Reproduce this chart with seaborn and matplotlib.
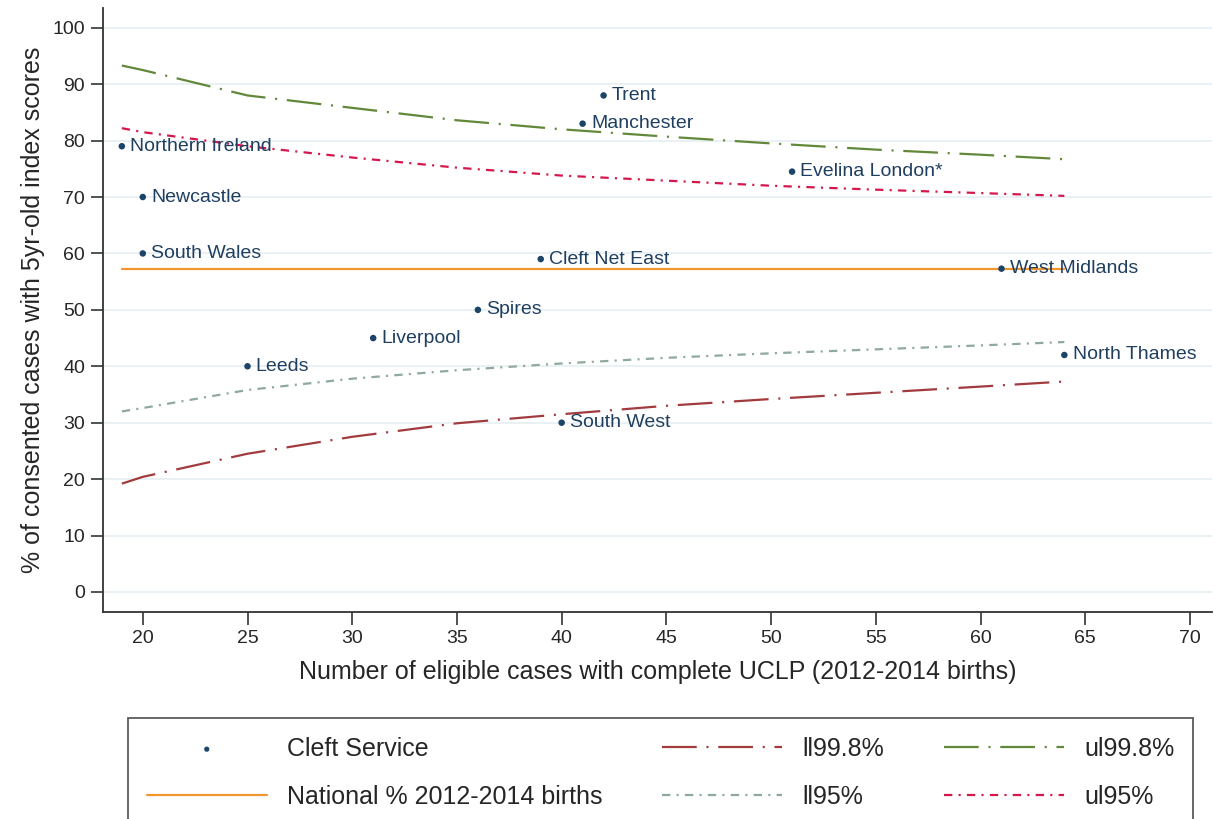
import numpy as np
import pandas as pd
import seaborn as sns
import matplotlib.pyplot as plt

# cleft services: eligible cases vs % consented with 5yr-old scores
services = ["Northern Ireland", "Newcastle", "South Wales", "Leeds", "Liverpool",
            "Spires", "Cleft Net East", "South West", "Manchester", "Trent",
            "Evelina London*", "West Midlands", "North Thames"]
n_cases = [19, 20, 20, 25, 31, 36, 39, 40, 41, 42, 51, 61, 64]
pct = [79, 70, 60, 40, 45, 50, 59, 30, 83, 88, 74.5, 57.3, 42]

national = 57.3

# funnel limits
n_lim = [19, 20, 25, 30, 35, 40, 45, 50, 55, 60, 64]
ll998 = [19.2, 20.4, 24.5, 27.5, 29.9, 31.5, 33.0, 34.2, 35.3, 36.4, 37.3]
ul998 = [93.3, 92.5, 88.0, 85.8, 83.6, 82.0, 80.7, 79.5, 78.4, 77.5, 76.7]
ll95 = [32.0, 32.6, 35.8, 37.8, 39.3, 40.5, 41.5, 42.3, 43.0, 43.7, 44.3]
ul95 = [82.2, 81.5, 79.0, 77.0, 75.2, 73.8, 72.9, 72.0, 71.3, 70.7, 70.2]

df_pts = pd.DataFrame({"service": services, "n": n_cases, "pct": pct})
df_lim = pd.DataFrame({"n": n_lim, "ll998": ll998, "ul998": ul998,
                       "ll95": ll95, "ul95": ul95})
df_nat = pd.DataFrame({"n": [min(n_lim), max(n_lim)], "pct": [national, national]})

sns.set_theme(style="white")
plt.rcParams['font.family'] = ['Liberation Sans', 'DejaVu Sans']
plt.rcParams['lines.scale_dashes'] = False

fig = plt.figure(figsize=(12.14, 8.19), dpi=100)
ax = fig.add_axes([103 / 1214, 1 - 612 / 819, 1109 / 1214, 604 / 819])

navy = "#1c4468"
long_dd = (0, (25, 7, 1.5, 7))
short_dd = (0, (6, 4.5, 1.5, 4.5))

sns.lineplot(data=df_nat, x="n", y="pct", ax=ax, color="#f0962e", lw=1.6,
             label="National % 2012-2014 births")
sns.lineplot(data=df_lim, x="n", y="ll998", ax=ax, color="#a23b3e", lw=1.6,
             linestyle=long_dd, label="ll99.8%")
sns.lineplot(data=df_lim, x="n", y="ll95", ax=ax, color="#8fa99c", lw=1.6,
             linestyle=short_dd, label="ll95%")
sns.lineplot(data=df_lim, x="n", y="ul998", ax=ax, color="#62883a", lw=1.6,
             linestyle=long_dd, label="ul99.8%")
sns.lineplot(data=df_lim, x="n", y="ul95", ax=ax, color="#d4184c", lw=1.6,
             linestyle=short_dd, label="ul95%")
sns.scatterplot(data=df_pts, x="n", y="pct", ax=ax, color=navy, s=22,
                edgecolor="none", label="Cleft Service", zorder=5)

for _, r in df_pts.iterrows():
    ax.annotate(r["service"], (r["n"], r["pct"]), xytext=(6, 0),
                textcoords="offset points", va="center", ha="left",
                fontsize=14, color="#1f3f60", zorder=6)

ax.set_xlim(18.1, 71.05)
ax.set_ylim(-3.55, 103.5)
ax.set_xticks(range(20, 71, 5))
ax.set_yticks(range(0, 101, 10))
ax.yaxis.grid(True, color="#e6eff2", lw=1.2)
ax.set_axisbelow(True)
sns.despine(ax=ax)
for s in ["left", "bottom"]:
    ax.spines[s].set_color("#333333")
    ax.spines[s].set_linewidth(1.3)
ax.tick_params(axis="both", length=9, width=1.2, color="#333333",
               labelsize=14, direction="out", pad=4, left=True, bottom=True)
ax.set_xlabel("Number of eligible cases with complete UCLP (2012-2014 births)",
              fontsize=18, labelpad=9)
ax.set_ylabel("% of consented cases with 5yr-old index scores",
              fontsize=18, labelpad=5)

handles, labels = ax.get_legend_handles_labels()
ax.get_legend().remove()
order = ["Cleft Service", "National % 2012-2014 births", "ll99.8%", "ll95%",
         "ul99.8%", "ul95%"]
hmap = dict(zip(labels, handles))
leg = fig.legend([hmap[k] for k in order], order, loc="upper left",
                 bbox_to_anchor=(128 / 1214, 1 - 718 / 819), ncol=3,
                 fontsize=18, handlelength=4.8, handletextpad=0.8,
                 columnspacing=2.4, labelspacing=0.95, borderpad=0.75,
                 borderaxespad=0, fancybox=False, frameon=True,
                 markerscale=0.8)
leg.get_frame().set_edgecolor("#333333")
leg.get_frame().set_linewidth(1.3)

fig.savefig("out.png", dpi=100)
